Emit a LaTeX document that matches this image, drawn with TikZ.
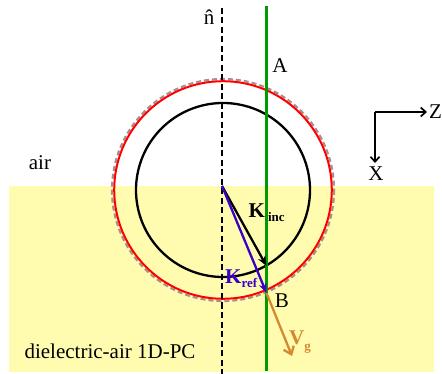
\documentclass[tikz,border=0pt]{standalone}
\usepackage{fontspec}
\setmainfont{Liberation Serif}
\usetikzlibrary{arrows.meta}
\definecolor{pcyellow}{RGB}{255,252,176}
\definecolor{kblue}{RGB}{60,0,200}
\definecolor{vorange}{RGB}{214,136,46}
\definecolor{lgreen}{RGB}{0,155,0}
\definecolor{ghost}{RGB}{170,140,145}
\tikzset{
  lbl/.style={inner sep=0pt,font=\fontsize{21}{25}\selectfont},
  vec/.style={line width=2.3pt,-{Stealth[length=10pt,width=8pt]}},
  axis/.style={line width=1.7pt,-{Straight Barb[length=5pt,width=9pt]}}
}
\begin{document}
\begin{tikzpicture}[x=1pt,y=-1pt]
\useasboundingbox (0,0) rectangle (442,374);
% dielectric region
\fill[pcyellow] (9,186) rectangle (434,372);
% circles
\coordinate (C) at (223,190);
\draw[ghost,line width=2.2pt,dash pattern=on 5pt off 3pt] (C) circle[radius=111];
\draw[red,line width=2pt] (C) circle[radius=108.8];
\draw[black,line width=2.3pt] (C) circle[radius=87];
% normal and green line
\coordinate (ntop) at (222,8);
\coordinate (nbot) at (222,374);
\draw[black,line width=2.3pt,dash pattern=on 6pt off 3.5pt] (ntop) -- (nbot);
\coordinate (gtop) at (266.5,6);
\coordinate (gbot) at (266.5,371);
\draw[lgreen,line width=2.3pt] (gtop) -- (gbot);
% vectors
\coordinate (O) at (222,186);
\coordinate (Pinc) at (266.5,266);
\coordinate (B) at (266.5,293);
\coordinate (Vg) at (292,356);
\draw[vec,black] (O) -- (Pinc);
\draw[vec,kblue] (O) -- (B);
\draw[line width=2.3pt,vorange,-{Straight Barb[length=7pt,width=11pt]}] (B) -- (Vg);
% axes
\coordinate (ax0) at (375,112);
\coordinate (axZ) at (427,112);
\coordinate (axX) at (375,163);
\draw[axis] (ax0) -- (axZ);
\draw[axis] (ax0) -- (axX);
\node[lbl,anchor=west] (zlab) at (429,112) {Z};
\node[lbl] (xlab) at (376,174) {X};
% labels
\node[lbl] (nlab) at (209,17) {\^{n}};
\node[lbl] (alab) at (280,66) {A};
\node[lbl] (blab) at (282,301) {B};
\node[lbl] (air) at (40,163) {air};
\node[lbl] (pc) at (110,351) {dielectric-air 1D-PC};
\node[lbl,anchor=west] (kinc) at (248.5,213) {\textbf{K}\kern3pt\raisebox{-0.45ex}{\fontsize{13}{14}\selectfont\textbf{inc}}};
\node[lbl,anchor=west,text=kblue] (kref) at (225,279) {\textbf{K}\raisebox{-0.45ex}{\fontsize{13}{14}\selectfont\textbf{ref}}};
\node[lbl,anchor=west,text=vorange] (vg) at (289,342) {\textbf{V}\raisebox{-0.6ex}{\fontsize{13}{14}\selectfont\textbf{g}}};
\end{tikzpicture}
\end{document}
